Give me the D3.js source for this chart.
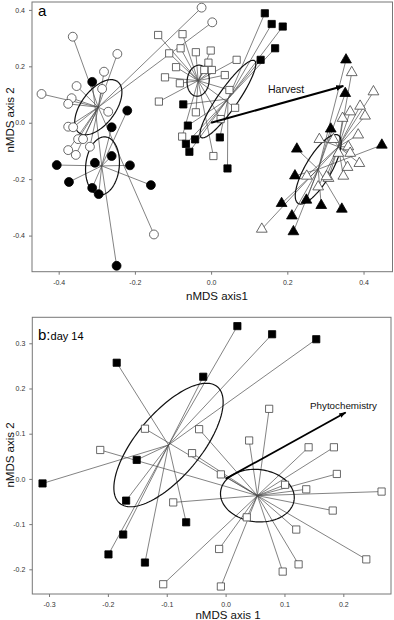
<!DOCTYPE html>
<html>
<head>
<meta charset="utf-8">
<script src="https://cdn.jsdelivr.net/npm/d3@7"></script>
<style>
  body { margin: 0; background: #fff; }
  svg { display: block; font-family: "Liberation Sans", Arial, sans-serif; }
</style>
</head>
<body>
<div id="chart"></div>
<script>
// ---- panel a data (nMDS scores) ----
var aOpenCircles = [[-0.363,0.305],[-0.246,0.244],[-0.281,0.181],[-0.353,0.130],[-0.286,0.120],[-0.445,0.102],
  [-0.366,0.087],[-0.375,0.067],[-0.270,0.039],[-0.375,-0.014],[-0.362,-0.016],[-0.349,-0.058],[-0.336,-0.058],
  [-0.318,-0.085],[-0.375,-0.097],[-0.355,-0.114],[-0.025,0.408],[0.003,0.356],[-0.150,-0.396]];
var aFilledCircles = [[-0.312,0.145],[-0.220,0.043],[-0.261,-0.016],[-0.261,-0.118],[-0.405,-0.150],[-0.305,-0.142],
  [-0.213,-0.151],[-0.373,-0.210],[-0.158,-0.221],[-0.312,-0.231],[-0.295,-0.253],[-0.248,-0.507]];
var aOpenSquares = [[-0.139,0.311],[-0.075,0.314],[-0.110,0.246],[-0.080,0.264],[-0.040,0.250],[-0.001,0.256],
  [-0.007,0.213],[-0.092,0.197],[-0.018,0.187],[0.002,0.187],[0.067,0.223],[-0.121,0.161],[-0.082,0.140],
  [0.036,0.169],[-0.137,0.075],[0.048,0.116],[0.063,0.053],[-0.040,0.037],[0.025,0.013],[-0.076,-0.049],[0.006,-0.118]];
var aFilledSquares = [[0.141,0.388],[0.159,0.350],[0.188,0.341],[0.168,0.264],[0.130,0.223],[-0.073,0.065],
  [-0.061,-0.010],[-0.042,-0.059],[-0.066,-0.075],[-0.057,-0.103],[0.023,-0.052],[0.043,-0.162]];
var aOpenTriangles = [[0.369,0.178],[0.426,0.110],[0.391,0.059],[0.404,0.024],[0.365,0.039],[0.345,0.016],
  [0.386,-0.043],[0.360,-0.085],[0.389,-0.144],[0.358,-0.158],[0.347,-0.189],[0.284,-0.059],[0.321,-0.059],
  [0.334,-0.108],[0.365,-0.108],[0.308,-0.197],[0.281,-0.227],[0.303,-0.191],[0.251,-0.189],[0.133,-0.377]];
var aFilledTriangles = [[0.354,0.223],[0.352,0.104],[0.314,-0.022],[0.225,-0.093],[0.448,-0.079],[0.220,-0.188],
  [0.185,-0.286],[0.250,-0.274],[0.289,-0.293],[0.343,-0.306],[0.212,-0.330],[0.216,-0.386]];

// group centroids (spider centres), same order as groups below
var aCentroids = [[-0.296,0.055],[-0.287,-0.153],[-0.034,0.149],[0.044,0.084],[0.334,-0.085],[0.281,-0.165]];
// ellipses: centre, two conjugate semi-axes (data units)
var aEllipses = [
  [[-0.296,0.055],[0.0506,0.0908],[0.0357,-0.0362]],
  [[-0.285,-0.153],[0.0079,0.1028],[0.0438,-0.006]],
  [[-0.034,0.149],[0.0026,0.055],[0.029,0]],
  [[0.044,0.084],[0.070,0.136],[0.0215,-0.0202]],
  [[0.281,-0.165],[0.0525,0.121],[0.0295,-0.0234]]
];
var aArrow = [0.347, 0.130];
var aArrowLabel = "Harvest";
var aTicksX = [-0.4, -0.2, 0.0, 0.2, 0.4];
var aTicksY = [-0.4, -0.2, 0.0, 0.2, 0.4];

// ---- panel b data (day 14) ----
var bFilledSquares = [[-0.185,0.257],[0.020,0.338],[0.079,0.320],[0.154,0.309],[-0.038,0.226],[-0.151,0.042],
  [-0.311,-0.010],[-0.169,-0.048],[-0.067,-0.096],[-0.174,-0.123],[-0.199,-0.167],[-0.137,-0.185]];
var bOpenSquares = [[-0.137,0.111],[-0.213,0.064],[-0.057,0.057],[-0.045,0.110],[0.074,0.155],[0.040,0.085],
  [0.141,0.070],[0.184,0.070],[-0.008,0.010],[0.189,0.011],[0.101,-0.013],[0.137,-0.023],[0.265,-0.028],
  [0.182,-0.070],[0.036,-0.085],[0.120,-0.112],[-0.011,-0.155],[0.239,-0.178],[0.124,-0.189],[0.097,-0.205],
  [-0.008,-0.238],[-0.089,-0.052],[-0.106,-0.233]];
var bCentroids = [[-0.097,0.075],[0.054,-0.037]];
var bEllipses = [
  [[-0.097,0.075],[0.0830,0.1288],[0.0416,-0.0455]],
  [[0.054,-0.037],[0.0625,-0.0088],[-0.0048,-0.0575]]
];
var bArrow = [0.204, 0.147];
var bArrowLabel = "Phytochemistry";
var bTicksX = [-0.3, -0.2, -0.1, 0.0, 0.1, 0.2];
var bTicksY = [-0.2, -0.1, 0.0, 0.1, 0.2, 0.3];

var W = 394, H = 620;
var svg = d3.select("#chart").append("svg").attr("width", W).attr("height", H);

svg.append("defs").append("marker")
    .attr("id", "arrowhead")
    .attr("viewBox", "0 0 10 10")
    .attr("refX", 9).attr("refY", 5)
    .attr("markerWidth", 4).attr("markerHeight", 4)
    .attr("markerUnits", "strokeWidth")
    .attr("orient", "auto")
  .append("path").attr("d", "M0,1.5 L10,5 L0,8.5 Z").attr("fill", "#000");

var shapes = {
    circle: d3.symbol().type(d3.symbolCircle).size(62)(),
    square: d3.symbol().type(d3.symbolSquare).size(52)(),
    triangle: d3.symbol().type(d3.symbolTriangle).size(50)()
};

function drawPanel(p) {
    var x = d3.scaleLinear().domain(p.xDomain).range([p.left, p.right]);
    var y = d3.scaleLinear().domain(p.yDomain).range([p.bottom, p.top]);
    var g = svg.append("g");

    // spider lines
    p.groups.forEach(function(grp, i) {
        var c = p.centroids[i];
        g.append("g").selectAll("line")
            .data(grp.pts)
            .enter().append("line")
            .attr("x1", x(c[0])).attr("y1", y(c[1]))
            .attr("x2", d => x(d[0])).attr("y2", d => y(d[1]))
            .attr("stroke", "#4d4d4d")
            .attr("stroke-width", 0.7);
    });

    // dispersion ellipses
    var ts = d3.range(0, 2 * Math.PI + 0.01, Math.PI / 60);
    var line = d3.line();
    g.append("g").selectAll("path")
        .data(p.ellipses)
        .enter().append("path")
        .attr("d", e => line(ts.map(t => [
            x(e[0][0] + e[1][0] * Math.cos(t) + e[2][0] * Math.sin(t)),
            y(e[0][1] + e[1][1] * Math.cos(t) + e[2][1] * Math.sin(t))
        ])))
        .attr("fill", "none")
        .attr("stroke", "#111")
        .attr("stroke-width", 1.2);

    // points
    p.groups.forEach(function(grp) {
        g.append("g").selectAll("path")
            .data(grp.pts)
            .enter().append("path")
            .attr("d", shapes[grp.shape])
            .attr("transform", d => `translate(${x(d[0])},${y(d[1])})`)
            .attr("fill", grp.filled ? "#000" : "#fff")
            .attr("stroke", grp.filled ? "#000" : "#444")
            .attr("stroke-width", 0.8);
    });

    // environmental vector
    g.append("line")
        .attr("x1", x(0)).attr("y1", y(0))
        .attr("x2", x(p.arrow[0])).attr("y2", y(p.arrow[1]))
        .attr("stroke", "#000")
        .attr("stroke-width", p.arrowWidth)
        .attr("marker-end", "url(#arrowhead)");
    g.append("text")
        .attr("x", p.arrowLabelPos[0]).attr("y", p.arrowLabelPos[1])
        .style("font-size", p.arrowLabelSize + "px")
        .attr("fill", "#111")
        .text(p.arrowLabel);

    // frame
    g.append("rect")
        .attr("x", p.left).attr("y", p.top)
        .attr("width", p.right - p.left).attr("height", p.bottom - p.top)
        .attr("fill", "none").attr("stroke", "#777").attr("stroke-width", 1);

    var fmt = d => d.toFixed(1);
    var ax = g.append("g").attr("transform", `translate(0,${p.bottom})`)
        .call(d3.axisBottom(x).tickValues(p.ticksX).tickFormat(fmt).tickSize(3).tickPadding(5));
    var ay = g.append("g").attr("transform", `translate(${p.left},0)`)
        .call(d3.axisLeft(y).tickValues(p.ticksY).tickFormat(fmt).tickSize(3).tickPadding(4));
    [ax, ay].forEach(function(a) {
        a.select(".domain").remove();
        a.selectAll("line").attr("stroke", "#777");
        a.selectAll("text").attr("fill", "#333").style("font-size", "7px").style("font-family", "inherit");
    });

    g.append("text")
        .attr("x", p.xTitlePos[0]).attr("y", p.xTitlePos[1])
        .attr("text-anchor", "middle")
        .style("font-size", "11.5px").attr("fill", "#111")
        .text(p.xTitle);
    g.append("text")
        .attr("transform", `translate(14,${p.yTitleY}) rotate(-90)`)
        .attr("text-anchor", "middle")
        .style("font-size", "11.5px").attr("fill", "#111")
        .text("nMDS axis 2");
    return g;
}

var ga = drawPanel({
    left: 32, right: 392.5, top: 2, bottom: 271.7,
    xDomain: [-0.470, 0.476], yDomain: [-0.528, 0.428],
    groups: [
        { pts: aOpenCircles, shape: "circle", filled: false },
        { pts: aFilledCircles, shape: "circle", filled: true },
        { pts: aOpenSquares, shape: "square", filled: false },
        { pts: aFilledSquares, shape: "square", filled: true },
        { pts: aOpenTriangles, shape: "triangle", filled: false },
        { pts: aFilledTriangles, shape: "triangle", filled: true }
    ],
    centroids: aCentroids, ellipses: aEllipses,
    arrow: aArrow, arrowWidth: 2, arrowLabel: aArrowLabel, arrowLabelPos: [268, 93], arrowLabelSize: 10.5,
    ticksX: aTicksX, ticksY: aTicksY,
    xTitle: "nMDS axis1", xTitlePos: [217, 300], yTitleY: 120
});
ga.append("text").attr("x", 38).attr("y", 16).style("font-size", "15px").text("a");

var gb = drawPanel({
    left: 32.3, right: 391, top: 317.3, bottom: 594,
    xDomain: [-0.3284, 0.281], yDomain: [-0.2546, 0.3575],
    groups: [
        { pts: bFilledSquares, shape: "square", filled: true },
        { pts: bOpenSquares, shape: "square", filled: false }
    ],
    centroids: bCentroids, ellipses: bEllipses,
    arrow: bArrow, arrowWidth: 1.8, arrowLabel: bArrowLabel, arrowLabelPos: [310, 409], arrowLabelSize: 9.8,
    ticksX: bTicksX, ticksY: bTicksY,
    xTitle: "nMDS axis 1", xTitlePos: [228, 619], yTitleY: 455
});
var lab = gb.append("text").attr("x", 38).attr("y", 340);
lab.append("tspan").style("font-size", "15px").text("b:");
lab.append("tspan").style("font-size", "11px").text("day 14");
</script>
</body>
</html>
